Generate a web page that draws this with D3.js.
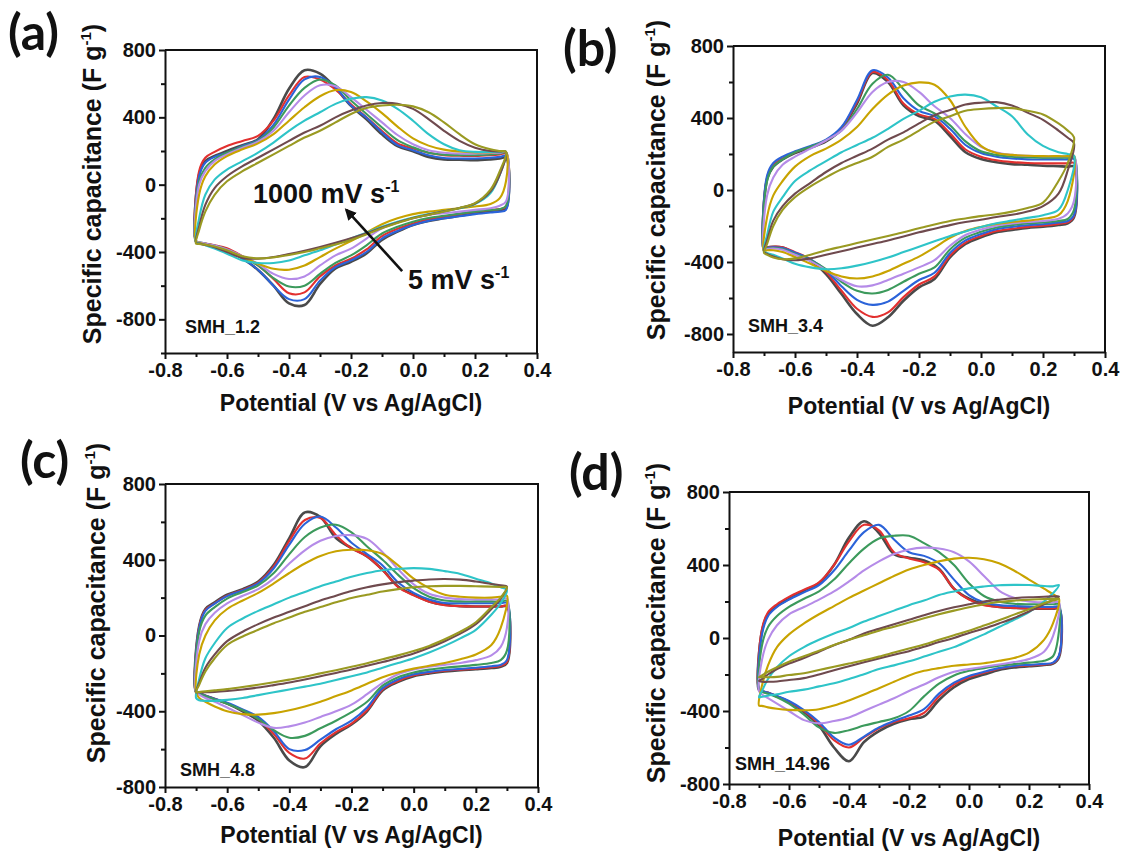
<!DOCTYPE html>
<html>
<head>
<meta charset="utf-8">
<script src="https://cdn.jsdelivr.net/npm/d3@7/dist/d3.min.js"></script>
<style>
  body { margin: 0; background: #fff; }
  svg text { font-family: "Liberation Sans", Arial, sans-serif; font-weight: bold; fill: #111; }
</style>
</head>
<body>
<svg id="fig" width="1126" height="856"></svg>
<script>
// potential grid (V vs Ag/AgCl) shared by every sweep
const potential = [-0.7, -0.69, -0.67, -0.64, -0.6, -0.55, -0.5, -0.45, -0.4, -0.35, -0.3, -0.25,
  -0.2, -0.15, -0.1, -0.05, 0, 0.05, 0.1, 0.15, 0.2, 0.25, 0.28, 0.3];

// one colour per scan rate, from 5 mV s-1 (first) up to 1000 mV s-1 (last)
const lineColors = ["#4a4a4a", "#e2302f", "#2b63d9", "#3c9a5c", "#b58be8", "#c8a300", "#2ec4c8", "#6f4a4e", "#9a9a22"];

const xTicks = [-0.8, -0.6, -0.4, -0.2, 0, 0.2, 0.4];
const xMinor = [-0.7, -0.5, -0.3, -0.1, 0.1, 0.3];
const yTicks = [-800, -400, 0, 400, 800];
const yMinor = [-1000, -600, -200, 200, 600];

// specific capacitance (F g-1), anodic sweep then cathodic sweep, both listed along `potential`
const smh12Anodic = [
  [-338, 60, 140, 170, 200, 235, 270, 390, 570, 680, 660, 575, 468, 388, 299, 229, 199, 165, 150, 148, 145, 150, 155, 160],
  [-335, 80, 160, 195, 230, 260, 290, 380, 530, 640, 625, 565, 478, 400, 318, 245, 215, 190, 175, 172, 170, 175, 180, 185],
  [-338, 50, 130, 165, 190, 230, 265, 355, 505, 625, 640, 578, 470, 398, 310, 235, 205, 175, 158, 155, 155, 160, 165, 170],
  [-335, 20, 100, 150, 190, 225, 260, 340, 470, 575, 625, 590, 500, 420, 340, 265, 222, 190, 178, 175, 175, 180, 185, 190],
  [-335, 0, 80, 140, 180, 220, 255, 320, 430, 530, 590, 585, 520, 445, 370, 295, 240, 205, 190, 185, 185, 188, 190, 193],
  [-340, -60, 50, 120, 170, 210, 245, 300, 380, 460, 525, 562, 550, 495, 425, 345, 275, 232, 208, 197, 192, 192, 194, 196],
  [-340, -200, -60, 30, 90, 140, 190, 250, 320, 380, 430, 480, 510, 520, 500, 450, 380, 300, 240, 205, 195, 195, 195, 195],
  [-345, -250, -120, -20, 50, 110, 160, 210, 260, 310, 350, 400, 440, 470, 485, 480, 450, 390, 320, 260, 220, 200, 197, 195],
  [-350, -270, -160, -60, 20, 80, 130, 180, 230, 280, 320, 370, 420, 455, 470, 475, 465, 430, 370, 300, 240, 210, 200, 195]
];
const smh12Cathodic = [
  [-338, -345, -352, -365, -388, -438, -507, -600, -705, -715, -590, -498, -458, -408, -328, -279, -239, -215, -200, -185, -170, -158, -150, -140],
  [-335, -345, -350, -360, -378, -425, -480, -560, -645, -640, -545, -480, -440, -385, -305, -262, -230, -205, -190, -175, -160, -150, -145, -130],
  [-338, -348, -355, -368, -390, -440, -505, -600, -680, -680, -570, -490, -450, -400, -320, -275, -240, -215, -200, -188, -175, -165, -160, -150],
  [-335, -342, -350, -362, -385, -430, -480, -555, -605, -600, -530, -465, -420, -360, -290, -250, -220, -198, -185, -172, -160, -150, -145, -125],
  [-335, -342, -350, -362, -385, -425, -470, -530, -560, -545, -480, -420, -380, -320, -260, -225, -200, -180, -170, -160, -150, -140, -125, -100],
  [-340, -345, -355, -370, -395, -430, -470, -500, -505, -480, -430, -380, -335, -285, -235, -200, -175, -160, -150, -140, -130, -115, -80, 20],
  [-340, -348, -360, -380, -410, -450, -465, -465, -450, -420, -390, -355, -320, -285, -250, -220, -195, -175, -158, -140, -115, -50, 60, 195],
  [-345, -350, -358, -372, -400, -435, -440, -430, -412, -392, -370, -345, -318, -288, -255, -225, -198, -178, -158, -138, -112, -40, 60, 195],
  [-350, -352, -357, -367, -390, -425, -438, -432, -418, -400, -378, -355, -328, -295, -259, -228, -199, -180, -160, -138, -110, -30, 80, 195]
];

const smh34Anodic = [
  [-337, 60, 130, 170, 205, 235, 270, 340, 480, 650, 600, 470, 410, 385, 300, 210, 172, 154, 144, 140, 135, 132, 130, 130],
  [-335, 70, 140, 175, 210, 240, 275, 345, 490, 655, 610, 480, 420, 395, 315, 225, 185, 165, 155, 150, 148, 148, 148, 150],
  [-335, 80, 150, 185, 215, 245, 280, 350, 500, 665, 625, 510, 440, 410, 340, 250, 205, 185, 175, 170, 170, 170, 170, 172],
  [-335, 50, 130, 170, 210, 240, 275, 330, 450, 590, 640, 560, 470, 425, 360, 270, 215, 195, 185, 182, 180, 180, 180, 182],
  [-335, -30, 70, 140, 185, 230, 275, 330, 430, 545, 600, 600, 545, 465, 400, 310, 240, 208, 195, 190, 188, 188, 188, 190],
  [-340, -150, -30, 50, 130, 190, 230, 280, 350, 450, 530, 580, 598, 585, 500, 350, 245, 205, 195, 190, 188, 188, 188, 190],
  [-340, -250, -120, -40, 50, 110, 160, 210, 250, 290, 340, 395, 440, 490, 520, 530, 515, 465, 410, 310, 245, 210, 200, 190],
  [-345, -280, -170, -90, -20, 40, 100, 150, 190, 230, 280, 320, 370, 415, 445, 475, 485, 488, 470, 430, 390, 330, 290, 260],
  [-350, -300, -200, -110, -40, 20, 70, 115, 150, 185, 240, 280, 330, 380, 410, 440, 450, 455, 455, 440, 420, 370, 330, 293]
];
const smh34Cathodic = [
  [-337, -320, -315, -320, -352, -393, -467, -578, -689, -754, -707, -615, -541, -494, -374, -300, -263, -235, -222, -211, -204, -194, -185, -152],
  [-335, -320, -315, -318, -345, -385, -455, -560, -660, -705, -680, -595, -525, -480, -365, -292, -255, -228, -215, -205, -198, -188, -180, -145],
  [-335, -322, -318, -322, -348, -385, -445, -535, -610, -638, -620, -560, -500, -460, -350, -280, -245, -218, -205, -196, -190, -180, -172, -140],
  [-335, -325, -322, -328, -355, -390, -440, -510, -560, -575, -555, -510, -465, -430, -330, -265, -232, -208, -195, -186, -180, -172, -160, -110],
  [-335, -328, -325, -332, -360, -395, -445, -500, -535, -530, -500, -465, -430, -390, -310, -250, -220, -198, -186, -178, -172, -160, -130, -60],
  [-340, -335, -335, -345, -372, -410, -450, -480, -492, -480, -450, -410, -370, -320, -265, -228, -205, -188, -178, -170, -160, -140, -60, 190],
  [-345, -350, -360, -380, -410, -430, -440, -435, -420, -400, -375, -345, -315, -285, -255, -230, -205, -185, -170, -155, -140, -110, 0, 190],
  [-345, -355, -370, -385, -390, -380, -360, -340, -320, -300, -280, -258, -235, -215, -195, -178, -165, -150, -138, -120, -90, -20, 110, 260],
  [-350, -360, -375, -385, -380, -360, -335, -315, -295, -275, -255, -235, -212, -192, -172, -158, -145, -135, -120, -100, -70, 50, 150, 293]
];

const smh48Anodic = [
  [-300, 50, 140, 175, 215, 245, 285, 373, 514, 650, 625, 514, 462, 418, 347, 259, 215, 180, 162, 155, 153, 153, 153, 153],
  [-300, 45, 135, 170, 210, 240, 280, 365, 500, 610, 620, 530, 460, 418, 345, 255, 212, 178, 160, 155, 153, 153, 153, 155],
  [-300, 40, 130, 168, 208, 238, 275, 355, 480, 590, 628, 570, 490, 430, 370, 280, 225, 190, 172, 170, 170, 170, 170, 172],
  [-300, 20, 105, 150, 195, 230, 265, 330, 430, 520, 570, 585, 545, 470, 400, 320, 250, 205, 185, 180, 180, 180, 180, 182],
  [-300, -30, 60, 120, 170, 210, 245, 300, 380, 450, 500, 525, 530, 510, 440, 350, 270, 220, 200, 192, 190, 190, 190, 195],
  [-300, -100, 0, 80, 140, 185, 225, 275, 330, 380, 420, 445, 453, 450, 430, 370, 300, 250, 215, 205, 200, 200, 205, 210],
  [-330, -230, -120, -40, 40, 90, 130, 165, 200, 230, 260, 285, 310, 330, 345, 352, 356, 352, 340, 325, 300, 275, 255, 240],
  [-300, -250, -170, -100, -30, 20, 60, 95, 125, 155, 185, 210, 235, 255, 270, 282, 290, 296, 298, 295, 285, 272, 265, 258],
  [-300, -260, -190, -120, -50, -5, 30, 65, 95, 125, 150, 175, 198, 215, 232, 245, 255, 260, 262, 262, 260, 258, 256, 255]
];
const smh48Cathodic = [
  [-300, -305, -318, -335, -360, -400, -450, -540, -660, -695, -585, -520, -470, -400, -290, -245, -215, -200, -190, -183, -178, -172, -165, -146],
  [-300, -305, -318, -335, -358, -395, -440, -520, -620, -650, -570, -510, -465, -395, -285, -240, -210, -196, -186, -180, -175, -168, -160, -140],
  [-300, -305, -318, -335, -355, -390, -430, -505, -600, -605, -550, -495, -450, -380, -278, -232, -205, -192, -182, -176, -170, -162, -155, -130],
  [-300, -308, -320, -338, -360, -395, -440, -500, -540, -530, -490, -450, -405, -350, -265, -220, -195, -180, -170, -163, -155, -145, -130, -80],
  [-300, -312, -330, -350, -380, -420, -460, -488, -480, -460, -430, -400, -365, -310, -250, -205, -180, -165, -155, -145, -130, -105, -60, 40],
  [-300, -330, -350, -375, -400, -415, -418, -410, -395, -375, -350, -320, -290, -255, -220, -195, -175, -160, -145, -125, -100, -50, 40, 210],
  [-330, -342, -345, -345, -340, -330, -315, -300, -285, -270, -255, -235, -215, -195, -170, -145, -120, -90, -55, -15, 30, 110, 170, 240],
  [-300, -300, -300, -298, -293, -285, -275, -262, -248, -232, -215, -198, -180, -160, -140, -118, -95, -65, -30, 10, 60, 140, 195, 258],
  [-300, -298, -295, -290, -283, -272, -260, -247, -233, -218, -200, -183, -165, -146, -125, -105, -82, -55, -20, 20, 70, 150, 200, 255]
];

const smh1496Anodic = [
  [-285, 40, 130, 175, 215, 260, 300, 400, 550, 640, 575, 460, 440, 425, 380, 270, 215, 185, 170, 165, 162, 160, 160, 160],
  [-280, 50, 140, 185, 225, 265, 305, 400, 530, 620, 590, 470, 435, 415, 375, 270, 210, 180, 170, 165, 163, 162, 162, 162],
  [-280, 20, 120, 170, 210, 250, 290, 370, 480, 580, 620, 540, 470, 450, 410, 320, 235, 195, 180, 175, 172, 170, 170, 170],
  [-280, -40, 60, 120, 170, 215, 255, 320, 410, 490, 545, 560, 560, 520, 470, 400, 300, 230, 200, 188, 185, 185, 185, 185],
  [-290, -120, -10, 70, 130, 170, 210, 255, 310, 370, 420, 460, 485, 495, 490, 470, 420, 340, 260, 220, 200, 195, 195, 195],
  [-370, -260, -150, -50, 20, 80, 130, 175, 220, 260, 300, 340, 375, 400, 420, 435, 440, 432, 410, 370, 320, 270, 240, 215],
  [-325, -290, -225, -160, -100, -50, -10, 25, 55, 90, 120, 150, 180, 205, 235, 255, 272, 282, 289, 291, 290, 285, 283, 290],
  [-235, -225, -200, -170, -140, -110, -75, -40, -10, 25, 50, 75, 100, 125, 148, 168, 185, 200, 210, 218, 223, 226, 228, 228],
  [-215, -205, -185, -160, -130, -100, -70, -38, -10, 15, 40, 62, 85, 108, 130, 150, 168, 185, 197, 205, 210, 213, 215, 215]
];
const smh1496Cathodic = [
  [-285, -292, -300, -320, -350, -405, -480, -600, -675, -570, -510, -470, -445, -430, -340, -270, -225, -200, -175, -162, -155, -148, -140, -105],
  [-280, -290, -300, -320, -350, -400, -470, -560, -600, -545, -495, -460, -440, -410, -320, -255, -215, -190, -168, -155, -150, -145, -138, -100],
  [-280, -290, -300, -318, -345, -395, -460, -545, -585, -540, -490, -455, -425, -390, -305, -245, -208, -185, -165, -153, -147, -142, -135, -95],
  [-280, -295, -305, -325, -360, -420, -490, -520, -505, -480, -460, -440, -400, -320, -250, -205, -180, -165, -152, -143, -135, -125, -100, 40],
  [-290, -310, -330, -360, -400, -450, -468, -455, -435, -400, -365, -330, -290, -255, -215, -185, -170, -158, -145, -132, -115, -75, 10, 195],
  [-370, -372, -380, -388, -394, -396, -390, -370, -342, -310, -275, -240, -205, -180, -165, -152, -145, -138, -125, -110, -80, -10, 80, 215],
  [-325, -322, -316, -308, -295, -283, -265, -248, -225, -198, -170, -150, -128, -102, -75, -50, -15, 20, 60, 100, 142, 200, 245, 290],
  [-235, -240, -240, -238, -230, -220, -200, -177, -155, -133, -112, -92, -72, -48, -22, 0, 28, 52, 80, 110, 145, 185, 210, 228],
  [-215, -215, -215, -213, -203, -193, -175, -158, -140, -122, -102, -80, -58, -36, -10, 15, 40, 68, 97, 128, 158, 190, 205, 215]
];

const panels = [
  { tag: "(a)", sample: "SMH_1.2", anodic: smh12Anodic, cathodic: smh12Cathodic,
    left: 165, right: 537, top: 50, bottom: 353, yDomain: [-1000, 800],
    tagX: 8, tagY: 50, yTitleX: 92, yTitleY: 184, xTitleDy: 58, sampleX: 185, sampleY: 333 },
  { tag: "(b)", sample: "SMH_3.4", anodic: smh34Anodic, cathodic: smh34Cathodic,
    left: 733, right: 1105, top: 46, bottom: 352, yDomain: [-900, 800],
    tagX: 563, tagY: 66, yTitleX: 656, yTitleY: 180, xTitleDy: 62, sampleX: 748, sampleY: 332 },
  { tag: "(c)", sample: "SMH_4.8", anodic: smh48Anodic, cathodic: smh48Cathodic,
    left: 165, right: 538, top: 484, bottom: 787, yDomain: [-800, 800],
    tagX: 20, tagY: 478, yTitleX: 96, yTitleY: 603, xTitleDy: 56, sampleX: 180, sampleY: 776 },
  { tag: "(d)", sample: "SMH_14.96", anodic: smh1496Anodic, cathodic: smh1496Cathodic,
    left: 729, right: 1089, top: 492, bottom: 784, yDomain: [-800, 800],
    tagX: 569, tagY: 490, yTitleX: 656, yTitleY: 623, xTitleDy: 62, sampleX: 735, sampleY: 770 }
];

const svg = d3.select("#fig");

svg.append("defs").append("marker")
  .attr("id", "head")
  .attr("viewBox", "0 0 10 10")
  .attr("refX", 8).attr("refY", 5)
  .attr("markerWidth", 4.5).attr("markerHeight", 4.5)
  .attr("orient", "auto")
  .append("path")
  .attr("d", "M0,0 L10,5 L0,10 z")
  .attr("fill", "#111");

function drawPanel(p) {
  const x = d3.scaleLinear().domain([-0.8, 0.4]).range([p.left, p.right]);
  const y = d3.scaleLinear().domain(p.yDomain).range([p.bottom, p.top]);
  const g = svg.append("g");

  const loop = d3.line()
    .x(d => x(d[0]))
    .y(d => y(d[1]))
    .curve(d3.curveCatmullRomClosed.alpha(0.5));

  p.anodic.forEach((up, i) => {
    const down = p.cathodic[i];
    const pts = potential.map((v, k) => [v, up[k]]);
    const last = potential.length - 1;
    for (let k = last; k >= 1; k--) {
      if (k === last && down[k] === up[k]) continue;
      pts.push([potential[k], down[k]]);
    }
    g.append("path")
      .attr("d", loop(pts))
      .attr("fill", "none")
      .attr("stroke", lineColors[i])
      .attr("stroke-width", i === 0 ? 2.6 : 2.1)
      .attr("stroke-linejoin", "round");
  });

  // frame
  g.append("path")
    .attr("d", `M${p.left},${p.top}H${p.right}V${p.bottom}`)
    .attr("fill", "none")
    .attr("stroke", "#111")
    .attr("stroke-width", 2);

  const xAxis = g.append("g")
    .attr("transform", `translate(0,${p.bottom})`)
    .call(d3.axisBottom(x).tickValues(xTicks).tickFormat(d => d.toFixed(1))
      .tickSize(6).tickSizeOuter(0).tickPadding(4));
  g.append("g")
    .attr("transform", `translate(0,${p.bottom})`)
    .call(d3.axisBottom(x).tickValues(xMinor).tickFormat("").tickSize(4).tickSizeOuter(0))
    .select(".domain").remove();

  const yAxis = g.append("g")
    .attr("transform", `translate(${p.left},0)`)
    .call(d3.axisLeft(y).tickValues(yTicks).tickFormat(d => String(d))
      .tickSize(6).tickSizeOuter(0).tickPadding(3));
  g.append("g")
    .attr("transform", `translate(${p.left},0)`)
    .call(d3.axisLeft(y).tickValues(yMinor.filter(v => v >= p.yDomain[0])).tickFormat("")
      .tickSize(4).tickSizeOuter(0))
    .select(".domain").remove();

  g.selectAll(".domain, .tick line").attr("stroke", "#111").attr("stroke-width", 2);
  [xAxis, yAxis].forEach(a => a.selectAll("text")
    .attr("font-size", 20).attr("font-family", null).attr("fill", "#111"));

  g.append("text")
    .attr("x", (p.left + p.right) / 2)
    .attr("y", p.bottom + p.xTitleDy)
    .attr("text-anchor", "middle")
    .attr("font-size", 23)
    .text("Potential (V vs Ag/AgCl)");

  const yt = g.append("text")
    .attr("transform", `translate(${p.yTitleX},${p.yTitleY}) rotate(-90)`)
    .attr("text-anchor", "middle")
    .attr("dy", "0.35em")
    .attr("font-size", 25);
  yt.append("tspan").text("Specific capacitance (F g");
  yt.append("tspan").attr("dy", -10).attr("font-size", 15).text("-1");
  yt.append("tspan").attr("dy", 10).text(")");

  g.append("text")
    .attr("x", p.sampleX)
    .attr("y", p.sampleY)
    .attr("font-size", 18)
    .text(p.sample);

  g.append("text")
    .attr("x", p.tagX)
    .attr("y", p.tagY)
    .style("font-family", "Lato, 'Open Sans', sans-serif")
    .style("font-weight", 700)
    .attr("font-size", 50)
    .text(p.tag);

  return { x, y, g };
}

const scales = panels.map(drawPanel);

// scan-rate annotation in panel (a)
const a = scales[0];
a.g.append("line")
  .attr("x1", a.x(-0.035)).attr("y1", a.y(-513))
  .attr("x2", a.x(-0.215)).attr("y2", a.y(-150))
  .attr("stroke", "#111")
  .attr("stroke-width", 2.6)
  .attr("marker-end", "url(#head)");

function rateLabel(xv, yv, main) {
  const t = a.g.append("text")
    .attr("x", a.x(xv))
    .attr("y", a.y(yv))
    .attr("font-size", 27);
  t.append("tspan").text(main);
  t.append("tspan").attr("dy", -11).attr("font-size", 16).text("-1");
}
rateLabel(-0.516, -107, "1000 mV s");
rateLabel(-0.016, -621, "5 mV s");
</script>
</body>
</html>
